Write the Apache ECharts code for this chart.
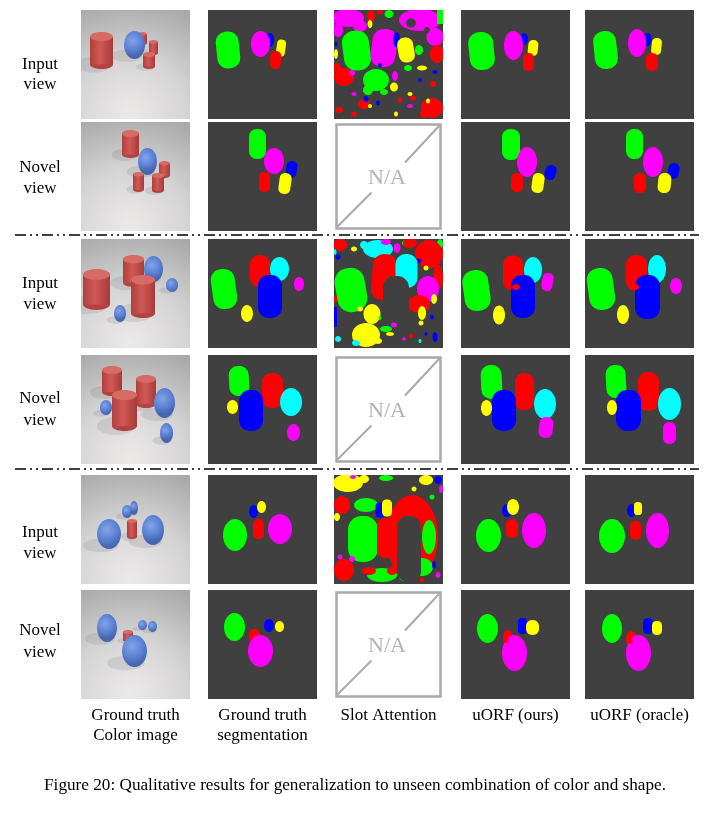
<!DOCTYPE html>
<html lang="en">
<head>
<meta charset="UTF-8" />
<script src="https://cdn.jsdelivr.net/npm/echarts@6/dist/echarts.min.js"></script>
<style>
html,body{margin:0;padding:0;background:#fff}
#main{width:707px;height:814px}
</style>
</head>
<body>
<div id="main"></div>
<script type="text/javascript">
// panel grid (page pixels)
var colX = [81, 208, 334, 461, 585];
var rowY = [10, 122, 239, 355, 475, 590];
var PANEL = 109;

var colNames = [['Ground truth', 'Color image'], ['Ground truth', 'segmentation'], ['Slot Attention'], ['uORF (ours)'], ['uORF (oracle)']];
var rowNames = [['Input', 'view'], ['Novel', 'view'], ['Input', 'view'], ['Novel', 'view'], ['Input', 'view'], ['Novel', 'view']];
var rowLabelY = [[65, 85], [168, 189], [284, 305], [399, 421], [533, 554], [631, 653]];
var sepY = [235, 469];
var caption = 'Figure 20: Qualitative results for generalization to unseen combination of color and shape.';

var segColor = {G: '#00ff00', M: '#ff00ff', B: '#0000ff', Y: '#ffff00', R: '#ff0000', C: '#00ffff', D: '#404040'};

// rendered scenes: [kind, cx, cy, w, h] in panel units, back to front
var gtScene = [
  [['cyl',61.5,28.5,9,13],['cyl',20.5,40.5,23,37],['sph',53.5,35,21,28],['cyl',72.5,37.5,9,15],['cyl',68,50.5,12,17]],
  [['cyl',49.5,22,17,28],['sph',66.5,39.5,19,27],['cyl',83.5,47.5,11,17],['cyl',57.5,60,11,20],['cyl',77,61,12,20]],
  [['cyl',52.5,32,21,32],['sph',72.5,30,19,26],['cyl',15.5,50.5,27,41],['sph',91,46,12,14],['cyl',62,57.5,24,43],['sph',39,74.5,12,17]],
  [['cyl',31,26,20,30],['cyl',65,36.5,20,33],['sph',83.5,48,21,30],['sph',25,52.5,12,15],['cyl',43.5,55.5,25,41],['sph',85.5,78,13,20]],
  [['sph',46,36.5,10,13],['sph',53,33,8,14],['cyl',51,54,10,20],['sph',28,59,24,30],['sph',72,55,22,30]],
  [['sph',61.5,35,9,10],['sph',71.5,36.5,9,11],['sph',26,38,20,28],['cyl',47,46,10,12],['sph',53.5,61,25,32]]
];

// segment masks: [shape, cx, cy, w, h, color, tilt]  (e ellipse, c capsule, r rect)
var gtSeg = [
  [['e',62,30,8,14,'B'],['e',52.5,34,19,26,'M'],['c',20,40,23,37,'G',6],['c',73,38,9,17,'Y',-8],['c',67.5,50,11,18,'R',-4]],
  [['c',49.5,22,17,30,'G'],['e',66,39,20,26,'M'],['c',83.5,47.5,11,17,'B',-10],['c',56.5,60,11,20,'R'],['c',77,61.5,12,21,'Y',-8]],
  [['c',52,32,20,32,'R'],['e',71.5,30,19,24,'C'],['c',16,50,24,40,'G',8],['c',62,57.5,24,43,'B'],['e',91,45,10,14,'M'],['e',39,74.5,12,17,'Y']],
  [['c',31,26,20,30,'G',3],['c',64.5,35.5,21,35,'R'],['e',83,47,22,28,'C'],['c',43,55.5,24,41,'B'],['e',24.5,52,11,14,'Y'],['e',85.5,77.5,13,17,'M']],
  [['e',27,60,24,32,'G'],['e',45.5,36.5,9,13,'B'],['e',53.5,32,9,12,'Y'],['c',50.5,54,11,20,'R'],['e',72,54,24,30,'M']],
  [['e',26.5,37,21,28,'G'],['e',61,35.5,10,13,'B'],['e',71.5,36.5,9,11,'Y'],['c',46.5,46,11,14,'R'],['e',52.5,61,25,32,'M']]
];
var oursSeg = [
  [['e',63,29,8,12,'B'],['e',52.5,35.5,19,29,'M'],['c',20.5,41,25,38,'G',6],['c',72,38,10,16,'Y',-6],['c',67.5,52,11,18,'R']],
  [['c',50,22.5,18,31,'G'],['e',66,40,20,30,'M'],['c',89.5,50.5,11,15,'B',-15],['c',56,60.5,12,19,'R'],['c',77,61,12,20,'Y',-8]],
  [['c',52,34,20,35,'R'],['e',72,31,18,26,'C'],['c',15.5,51.5,26,41,'G',8],['c',62,57.5,24,43,'B'],['c',86.5,43,11,18,'M',-10],['e',38,76,12,19,'Y'],['e',55,48,8,6,'R']],
  [['c',30.5,27,21,34,'G',3],['c',63.5,36.5,19,37,'R'],['e',84,49,22,30,'C'],['c',43,55.5,24,41,'B'],['e',25.5,53,11,16,'Y'],['c',85,72.5,14,21,'M',-8]],
  [['e',27.5,60.5,25,33,'G'],['e',46,35.5,10,13,'B'],['e',52,32,12,16,'Y'],['c',51,53.5,12,19,'R'],['e',73,55.5,24,35,'M']],
  [['e',26.5,38.5,21,29,'G'],['c',61.5,36,9,16,'B'],['c',71.5,37.5,13,15,'Y'],['e',47,47.5,10,15,'R'],['e',53.5,63,25,36,'M'],['e',45,50,5,6,'R']]
];
var oracleSeg = [
  [['e',62.5,29.5,8,13,'B'],['e',52,33,18,28,'M'],['c',20.5,40,23,38,'G',6],['c',71.5,36.5,10,17,'Y',-6],['c',67,52,12,18,'R']],
  [['c',49.5,22,17,30,'G'],['e',68,40,20,30,'M'],['c',88.5,49,11,16,'B',-12],['c',55,61,12,20,'R'],['c',79.5,61,13,20,'Y',-6]],
  [['c',51.5,34,21,36,'R'],['e',72,30,18,28,'C'],['c',16,50,26,42,'G',8],['c',62.5,58,25,44,'B'],['e',91,47,12,16,'M'],['e',38,75.5,12,19,'Y'],['e',51,48,6,6,'R']],
  [['c',31,26.5,20,33,'G',3],['c',63.5,36.5,21,39,'R'],['e',84.5,49,23,32,'C'],['c',43.5,55.5,25,41,'B'],['e',27,52.5,10,15,'Y'],['c',84.5,78,13,22,'M']],
  [['e',27,61,26,34,'G'],['e',46.5,35.5,9,13,'B'],['c',53,33.5,8,13,'Y'],['c',50.5,55.5,11,19,'R'],['e',72.5,55.5,23,35,'M']],
  [['e',27,38.5,20,29,'G'],['c',63,36,10,16,'B'],['c',72,38,10,14,'Y'],['e',46.5,49,11,16,'R'],['e',53.5,63,25,36,'M'],['e',45,51,5,6,'R']]
];
// slot attention only has input views
var slotSeg = [
  [['e',14,8,32,18,'M'],['e',4,20,10,14,'M'],['e',26,16,14,12,'M'],
   ['e',37,6,8,12,'R'],['e',36,14,5,8,'Y'],['e',55,4,9,8,'G'],['e',46,2,6,5,'R'],
   ['e',86,10,42,22,'M'],['e',101,27,17,18,'M'],['e',77,13,10,9,'D'],['e',93,20,6,6,'D'],
   ['r',106,7,6,14,'G'],['e',85,40,8,10,'G'],['e',103,44,14,18,'R'],
   ['e',2,44,4,10,'Y'],['e',2,34,3,5,'B'],
   ['c',22.5,40.5,27,40,'G',8],['c',50,38,25,38,'M',-8],['e',62.5,30,7,15,'B'],['c',72,40,16,25,'Y',10],
   ['e',10,67,20,18,'R'],['e',3,58,8,10,'R'],['e',18,63,6,6,'M'],
   ['e',42,70,26,22,'G'],['e',34,80,10,10,'G'],['e',50,82,8,6,'G'],
   ['e',60,77,8,9,'Y'],['e',61,66,6,10,'M'],['e',74,58,8,6,'G'],['e',88,58,10,5,'Y'],
   ['e',98,98,22,20,'R'],['e',90,104,8,8,'R'],
   ['e',30,94,12,10,'R'],['e',5,100,8,6,'R'],['e',20,104,6,5,'R'],
   ['e',32,89,5,6,'B'],['e',44,93,4,5,'B'],['e',86,70,4,4,'B'],['e',101,62,5,4,'B'],['e',46,55,4,4,'B'],
   ['e',94,91,4,5,'Y'],['e',62,104,4,5,'Y'],['e',76,84,5,4,'Y'],['e',36,96,4,4,'Y'],
   ['e',79,88,6,5,'R'],['e',66,90,5,5,'R'],['e',99,74,6,6,'R'],['e',20,84,5,4,'M'],['e',76,96,6,4,'M']],
  null,
  [['e',6,6,14,12,'R'],['e',44,10,30,18,'C'],['e',30,6,8,8,'C'],['e',63,9,7,10,'M'],['e',52,3,10,6,'M'],
   ['e',106,5,6,10,'G'],['e',72,4,8,6,'G'],['e',95,15,28,28,'R'],['e',104,38,10,25,'R'],['e',76,4,14,10,'R'],
   ['e',4,18,5,6,'B'],['e',1,13,3,6,'C'],['e',20,10,6,5,'Y'],['e',85,22,5,5,'B'],['e',92,29,5,5,'Y'],
   ['c',17,51,30,44,'G',10],['c',50,38,24,46,'R',-5],['c',72.5,32,22,34,'C'],
   ['e',94,50,22,26,'M'],['e',85,65,22,18,'R'],['e',100,60,6,10,'Y'],
   ['c',62,73,26,72,'D'],
   ['e',38,75,17,20,'Y'],['e',26,70,6,5,'Y'],
   ['e',32,96,28,24,'Y'],['e',22,104,8,6,'C'],['e',44,102,8,6,'Y'],
   ['e',88,74,8,14,'Y'],['e',87,84,5,5,'Y'],
   ['e',52,90,12,6,'G'],['e',60,86,6,5,'M'],['e',56,95,8,4,'Y'],
   ['e',101,98,5,10,'B'],['e',98,78,4,5,'B'],['e',92,95,3,4,'B'],
   ['e',4,100,6,6,'C'],['r',1.5,78,3,20,'B'],['r',1.5,60,3,6,'R'],
   ['e',77,97,5,4,'R'],['e',46,79,3,4,'G'],['e',86,102,3,4,'C'],['e',70,100,4,3,'M']],
  null,
  [['e',14,8,30,18,'Y'],['e',30,4,10,8,'Y'],['e',19,2,6,4,'M'],['e',52,3,14,6,'G'],
   ['e',92,5,14,10,'Y'],['e',104,5,8,8,'B'],['e',107,14,4,8,'M'],['e',80,14,5,5,'Y'],['e',98,22,5,5,'G'],
   ['e',8,30,16,18,'R'],['e',32,30,24,14,'G'],['e',3,42,6,8,'Y'],
   ['e',78,62,52,84,'R'],
   ['e',95,62,14,34,'G'],['e',88,92,22,18,'G'],['e',70,102,10,8,'G'],
   ['c',75,74,24,66,'D'],
   ['c',29,64,30,46,'G'],['c',52,63,18,40,'R'],
   ['c',46,35,9,15,'B'],['c',53,33,10,17,'Y'],
   ['e',10,95,20,22,'R'],['e',48,100,30,14,'G'],['e',35,96,14,8,'R'],['e',58,96,10,8,'R'],
   ['e',18,84,6,6,'M'],['e',100,90,4,8,'B'],['e',6,82,5,5,'M'],['e',104,100,5,6,'M'],['e',88,105,5,4,'R']],
  null
];

var segByCol = [null, gtSeg, slotSeg, oursSeg, oracleSeg];

var SERIF = '"Liberation Serif", "DejaVu Serif", serif';

function renderPanel(params, api) {
  var idx = params.dataIndex;
  var r = Math.floor(idx / 5), c = idx % 5;
  var o = api.coord([colX[c], rowY[r]]);
  var s = api.size([1, 1]);
  var W = PANEL * s[0], H = PANEL * s[1];
  function px(x) { return o[0] + x * s[0]; }
  function py(y) { return o[1] + y * s[1]; }
  var kids = [];

  if (c === 0) {
    kids.push({type: 'rect', shape: {x: o[0], y: o[1], width: W, height: H},
      style: {fill: {type: 'radial', x: 0.45, y: 0.95, r: 1.05, colorStops: [
        {offset: 0, color: '#ece9e9'}, {offset: 0.5, color: '#d5d4d4'}, {offset: 1, color: '#a9a9a9'}]}}});
    var objs = gtScene[r];
    objs.forEach(function (b) {
      var w = b[3] * s[0], h = b[4] * s[1];
      kids.push({type: 'ellipse', shape: {cx: px(b[1]) - w * 0.35, cy: py(b[2]) + h * 0.38, rx: w * 0.75, ry: h * 0.22},
        style: {fill: 'rgba(105,105,120,0.16)'}});
    });
    objs.forEach(function (b) {
      var cx = px(b[1]), cy = py(b[2]), w = b[3] * s[0], h = b[4] * s[1];
      if (b[0] === 'cyl') {
        var e = w * 0.2;
        kids.push({type: 'ellipse', shape: {cx: cx, cy: cy + h / 2 - e, rx: w / 2, ry: e}, style: {fill: '#b44241'}});
        kids.push({type: 'rect', shape: {x: cx - w / 2, y: cy - h / 2 + e, width: w, height: h - 2 * e},
          style: {fill: {type: 'linear', x: 0, y: 0, x2: 1, y2: 0, colorStops: [
            {offset: 0, color: '#b0403e'}, {offset: 0.45, color: '#d05955'}, {offset: 1, color: '#a83a39'}]}}});
        kids.push({type: 'ellipse', shape: {cx: cx, cy: cy - h / 2 + e, rx: w / 2, ry: e}, style: {fill: '#d66a65'}});
      } else {
        kids.push({type: 'ellipse', shape: {cx: cx, cy: cy, rx: w / 2, ry: h / 2},
          style: {fill: {type: 'radial', x: 0.4, y: 0.35, r: 0.75, colorStops: [
            {offset: 0, color: '#82a4ea'}, {offset: 0.6, color: '#5b80d2'}, {offset: 1, color: '#4565ad'}]}}});
      }
    });
  } else if (c === 2 && r % 2 === 1) {
    kids.push({type: 'rect', shape: {x: o[0], y: o[1], width: W, height: H}, style: {fill: '#ffffff'}});
    kids.push({type: 'rect', shape: {x: px(2.5), y: py(2.5), width: W - 5 * s[0], height: H - 5 * s[1]},
      style: {fill: '#ffffff', stroke: '#a9a9a9', lineWidth: 2.5}});
    kids.push({type: 'line', shape: {x1: px(3.5), y1: py(104.5), x2: px(37.5), y2: py(70.5)}, style: {stroke: '#a9a9a9', lineWidth: 2}});
    kids.push({type: 'line', shape: {x1: px(71), y1: py(40.5), x2: px(105.5), y2: py(3.5)}, style: {stroke: '#a9a9a9', lineWidth: 2}});
    kids.push({type: 'text', x: px(53), y: py(56),
      style: {text: 'N/A', fill: '#b3b3b3', font: '22px ' + SERIF, textAlign: 'center', textVerticalAlign: 'middle'}});
  } else {
    kids.push({type: 'rect', shape: {x: o[0], y: o[1], width: W, height: H}, style: {fill: segColor.D}});
    segByCol[c][r].forEach(function (b) {
      var cx = px(b[1]), cy = py(b[2]), w = b[3] * s[0], h = b[4] * s[1];
      var rot = (b[6] || 0) * Math.PI / 180;
      var fill = segColor[b[5]];
      if (b[0] === 'e') {
        kids.push({type: 'ellipse', x: cx, y: cy, rotation: rot, shape: {cx: 0, cy: 0, rx: w / 2, ry: h / 2}, style: {fill: fill}});
      } else {
        var rr = b[0] === 'r' ? 0 : Math.min(w, h) * 0.45;
        kids.push({type: 'rect', x: cx, y: cy, rotation: rot, shape: {x: -w / 2, y: -h / 2, width: w, height: h, r: rr}, style: {fill: fill}});
      }
    });
  }
  return {type: 'group', children: kids,
    clipPath: {type: 'rect', shape: {x: o[0], y: o[1], width: W, height: H}}};
}

var panelData = [];
for (var i = 0; i < 30; i++) panelData.push([i]);

var texts = [];
rowNames.forEach(function (lines, r) {
  lines.forEach(function (t, k) {
    texts.push({type: 'text', x: 40, y: rowLabelY[r][k],
      style: {text: t, font: '17px ' + SERIF, fill: '#000', textAlign: 'center', textVerticalAlign: 'middle'}});
  });
});
colNames.forEach(function (lines, c) {
  lines.forEach(function (t, k) {
    texts.push({type: 'text', x: colX[c] + PANEL / 2, y: 716 + k * 20,
      style: {text: t, font: '17px ' + SERIF, fill: '#000', textAlign: 'center', textVerticalAlign: 'middle'}});
  });
});
texts.push({type: 'text', x: 355, y: 785,
  style: {text: caption, font: '17.2px ' + SERIF, fill: '#000', textAlign: 'center', textVerticalAlign: 'middle'}});
sepY.forEach(function (y) {
  texts.push({type: 'line', shape: {x1: 15, y1: y, x2: 699, y2: y},
    style: {stroke: '#000', lineWidth: 1.6, lineDash: [11, 4, 2, 4, 2, 4]}});
});

var chart = echarts.init(document.getElementById('main'));
chart.setOption({
  animation: false,
  grid: {left: 0, right: 0, top: 0, bottom: 0},
  xAxis: {type: 'value', min: 0, max: 707, show: false},
  yAxis: {type: 'value', min: 0, max: 814, inverse: true, show: false},
  graphic: texts,
  series: [{
    type: 'custom',
    clip: false,
    renderItem: renderPanel,
    data: panelData,
    encode: {x: 0, y: 0},
    silent: true
  }]
});
</script>
</body>
</html>
